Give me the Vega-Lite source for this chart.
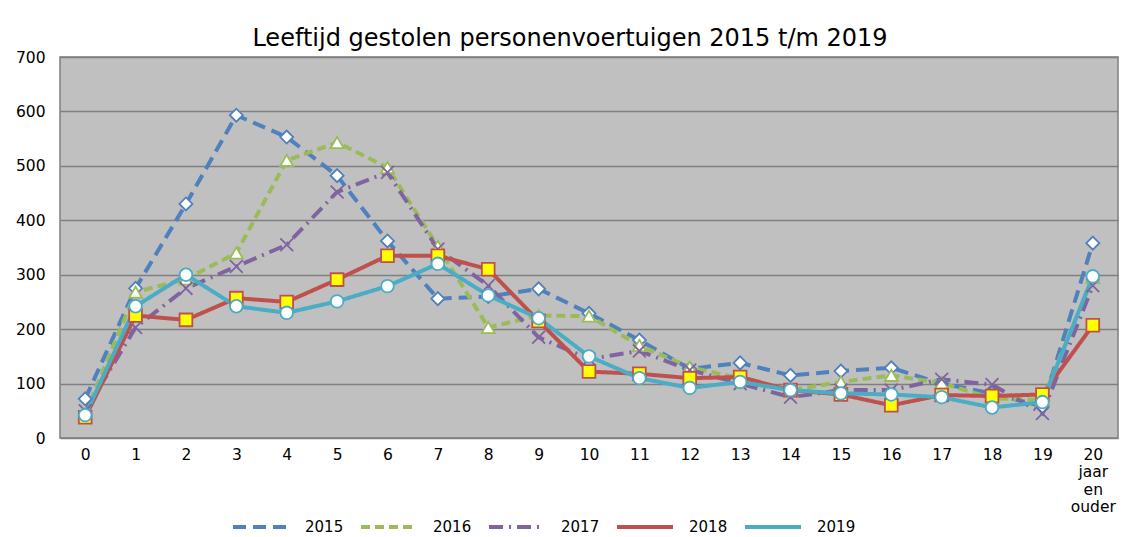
{
  "$schema": "https://vega.github.io/schema/vega-lite/v6.json",
  "autosize": "none",
  "width": 1058,
  "height": 381,
  "padding": {"left": 60, "top": 57, "right": 9, "bottom": 99},
  "background": "white",
  "title": {
    "text": "Leeftijd gestolen personenvoertuigen 2015 t/m 2019",
    "font": "DejaVu Sans",
    "fontSize": 24,
    "fontWeight": "normal",
    "color": "#000000",
    "anchor": "middle",
    "dx": -19,
    "offset": -1
  },
  "data": {
    "values": [
      {"age": "0", "year": "2015", "n": 72},
      {"age": "1", "year": "2015", "n": 275},
      {"age": "2", "year": "2015", "n": 430},
      {"age": "3", "year": "2015", "n": 593},
      {"age": "4", "year": "2015", "n": 553},
      {"age": "5", "year": "2015", "n": 482},
      {"age": "6", "year": "2015", "n": 362},
      {"age": "7", "year": "2015", "n": 256},
      {"age": "8", "year": "2015", "n": 260},
      {"age": "9", "year": "2015", "n": 274},
      {"age": "10", "year": "2015", "n": 229},
      {"age": "11", "year": "2015", "n": 180},
      {"age": "12", "year": "2015", "n": 127},
      {"age": "13", "year": "2015", "n": 138},
      {"age": "14", "year": "2015", "n": 115},
      {"age": "15", "year": "2015", "n": 123},
      {"age": "16", "year": "2015", "n": 129},
      {"age": "17", "year": "2015", "n": 100},
      {"age": "18", "year": "2015", "n": 82},
      {"age": "19", "year": "2015", "n": 58},
      {"age": "20 jaar en ouder", "year": "2015", "n": 358},
      {"age": "0", "year": "2016", "n": 45},
      {"age": "1", "year": "2016", "n": 268},
      {"age": "2", "year": "2016", "n": 292},
      {"age": "3", "year": "2016", "n": 340},
      {"age": "4", "year": "2016", "n": 510},
      {"age": "5", "year": "2016", "n": 543},
      {"age": "6", "year": "2016", "n": 497},
      {"age": "7", "year": "2016", "n": 352},
      {"age": "8", "year": "2016", "n": 203},
      {"age": "9", "year": "2016", "n": 225},
      {"age": "10", "year": "2016", "n": 224},
      {"age": "11", "year": "2016", "n": 170},
      {"age": "12", "year": "2016", "n": 130},
      {"age": "13", "year": "2016", "n": 110},
      {"age": "14", "year": "2016", "n": 88},
      {"age": "15", "year": "2016", "n": 103},
      {"age": "16", "year": "2016", "n": 115},
      {"age": "17", "year": "2016", "n": 101},
      {"age": "18", "year": "2016", "n": 73},
      {"age": "19", "year": "2016", "n": 70},
      {"age": "20 jaar en ouder", "year": "2016", "n": 295},
      {"age": "0", "year": "2017", "n": 50},
      {"age": "1", "year": "2017", "n": 203},
      {"age": "2", "year": "2017", "n": 275},
      {"age": "3", "year": "2017", "n": 315},
      {"age": "4", "year": "2017", "n": 355},
      {"age": "5", "year": "2017", "n": 452},
      {"age": "6", "year": "2017", "n": 488},
      {"age": "7", "year": "2017", "n": 347},
      {"age": "8", "year": "2017", "n": 280},
      {"age": "9", "year": "2017", "n": 185},
      {"age": "10", "year": "2017", "n": 145},
      {"age": "11", "year": "2017", "n": 160},
      {"age": "12", "year": "2017", "n": 125},
      {"age": "13", "year": "2017", "n": 100},
      {"age": "14", "year": "2017", "n": 75},
      {"age": "15", "year": "2017", "n": 88},
      {"age": "16", "year": "2017", "n": 88},
      {"age": "17", "year": "2017", "n": 108},
      {"age": "18", "year": "2017", "n": 98},
      {"age": "19", "year": "2017", "n": 45},
      {"age": "20 jaar en ouder", "year": "2017", "n": 280},
      {"age": "0", "year": "2018", "n": 38},
      {"age": "1", "year": "2018", "n": 225},
      {"age": "2", "year": "2018", "n": 217},
      {"age": "3", "year": "2018", "n": 257},
      {"age": "4", "year": "2018", "n": 250},
      {"age": "5", "year": "2018", "n": 291},
      {"age": "6", "year": "2018", "n": 335},
      {"age": "7", "year": "2018", "n": 335},
      {"age": "8", "year": "2018", "n": 310},
      {"age": "9", "year": "2018", "n": 215},
      {"age": "10", "year": "2018", "n": 122},
      {"age": "11", "year": "2018", "n": 118},
      {"age": "12", "year": "2018", "n": 110},
      {"age": "13", "year": "2018", "n": 112},
      {"age": "14", "year": "2018", "n": 88},
      {"age": "15", "year": "2018", "n": 80},
      {"age": "16", "year": "2018", "n": 60},
      {"age": "17", "year": "2018", "n": 79},
      {"age": "18", "year": "2018", "n": 77},
      {"age": "19", "year": "2018", "n": 80},
      {"age": "20 jaar en ouder", "year": "2018", "n": 207},
      {"age": "0", "year": "2019", "n": 42},
      {"age": "1", "year": "2019", "n": 242},
      {"age": "2", "year": "2019", "n": 300},
      {"age": "3", "year": "2019", "n": 242},
      {"age": "4", "year": "2019", "n": 230},
      {"age": "5", "year": "2019", "n": 251},
      {"age": "6", "year": "2019", "n": 279},
      {"age": "7", "year": "2019", "n": 320},
      {"age": "8", "year": "2019", "n": 262},
      {"age": "9", "year": "2019", "n": 220},
      {"age": "10", "year": "2019", "n": 150},
      {"age": "11", "year": "2019", "n": 110},
      {"age": "12", "year": "2019", "n": 92},
      {"age": "13", "year": "2019", "n": 103},
      {"age": "14", "year": "2019", "n": 88},
      {"age": "15", "year": "2019", "n": 82},
      {"age": "16", "year": "2019", "n": 80},
      {"age": "17", "year": "2019", "n": 75},
      {"age": "18", "year": "2019", "n": 56},
      {"age": "19", "year": "2019", "n": 66},
      {"age": "20 jaar en ouder", "year": "2019", "n": 297}
    ]
  },
  "encoding": {
    "x": {
      "field": "age",
      "type": "ordinal",
      "sort": null,
      "scale": {"type": "point", "padding": 0.5},
      "axis": {
        "title": null,
        "labelAngle": 0,
        "domain": false,
        "ticks": false,
        "labelPadding": 9,
        "labelFont": "DejaVu Sans",
        "labelFontSize": 15.5,
        "labelColor": "#000000",
        "labelOverlap": false,
        "labelLineHeight": 17.5,
        "labelExpr": "datum.value == '20 jaar en ouder' ? ['20', 'jaar', 'en', 'ouder'] : datum.label"
      }
    },
    "y": {
      "field": "n",
      "type": "quantitative",
      "scale": {"domain": [0, 700], "nice": false},
      "axis": {
        "title": null,
        "values": [0, 100, 200, 300, 400, 500, 600, 700],
        "domain": false,
        "ticks": false,
        "labelPadding": 15,
        "labelFont": "DejaVu Sans",
        "labelFontSize": 15.5,
        "labelColor": "#000000",
        "grid": true,
        "gridColor": "#7f7f7f",
        "gridWidth": 1.5
      }
    }
  },
  "resolve": {
    "scale": {"stroke": "independent", "shape": "independent", "fill": "independent", "size": "independent", "strokeDash": "independent"},
    "legend": {"stroke": "independent", "shape": "independent", "fill": "independent", "strokeDash": "independent"}
  },
  "layer": [
    {
      "mark": {"type": "line", "strokeWidth": 4},
      "encoding": {
        "stroke": {
          "field": "year",
          "type": "nominal",
          "scale": {
            "range": ["#4F81BD", "#9BBB59", "#8064A2", "#C0504D", "#4BACC6"]
          },
          "legend": {
            "title": null,
            "orient": "none",
            "direction": "horizontal",
            "legendX": 171,
            "legendY": 440,
            "symbolType": "stroke",
            "symbolSize": 3136,
            "symbolStrokeWidth": 4,
            "labelFont": "DejaVu Sans",
            "labelFontSize": 15,
            "labelColor": "#000000",
            "columnPadding": 9,
            "labelOffset": 14
          }
        },
        "strokeDash": {
          "field": "year",
          "type": "nominal",
          "scale": {
            "range": [[13, 7], [9, 5], [14, 6, 2, 6], [1, 0], [1, 0]]
          },
          "legend": {
            "title": null,
            "orient": "none",
            "direction": "horizontal",
            "legendX": 171,
            "legendY": 440,
            "symbolType": "stroke",
            "symbolSize": 3136,
            "symbolStrokeWidth": 4,
            "labelFont": "DejaVu Sans",
            "labelFontSize": 15,
            "labelColor": "#000000",
            "columnPadding": 9,
            "labelOffset": 14
          }
        }
      }
    },
    {
      "mark": {"type": "point", "filled": false, "strokeWidth": 1.8, "opacity": 1},
      "encoding": {
        "stroke": {
          "field": "year",
          "type": "nominal",
          "scale": {
            "range": ["#4F81BD", "#9BBB59", "#8064A2", "#C0504D", "#4BACC6"]
          },
          "legend": {
            "title": null,
            "orient": "none",
            "direction": "horizontal",
            "legendX": 193.3,
            "legendY": 461.5,
            "symbolSize": 130,
            "symbolStrokeWidth": 1.6,
            "labelFont": "DejaVu Sans",
            "labelFontSize": 15,
            "labelExpr": "''",
            "columnPadding": 106.6,
            "labelOffset": 2
          }
        },
        "shape": {
          "field": "year",
          "type": "nominal",
          "scale": {
            "range": ["diamond", "triangle-up", "M-1,-1L1,1M1,-1L-1,1", "square", "circle"]
          },
          "legend": {
            "title": null,
            "orient": "none",
            "direction": "horizontal",
            "legendX": 193.3,
            "legendY": 461.5,
            "symbolSize": 130,
            "symbolStrokeWidth": 1.6,
            "labelFont": "DejaVu Sans",
            "labelFontSize": 15,
            "labelExpr": "''",
            "columnPadding": 106.6,
            "labelOffset": 2
          }
        },
        "fill": {
          "field": "year",
          "type": "nominal",
          "scale": {
            "range": ["#FFFFFF", "#FFFFFF", "#FFFFFF", "#FFFF00", "#FFFFFF"]
          },
          "legend": {
            "title": null,
            "orient": "none",
            "direction": "horizontal",
            "legendX": 193.3,
            "legendY": 461.5,
            "symbolSize": 130,
            "symbolStrokeWidth": 1.6,
            "labelFont": "DejaVu Sans",
            "labelFontSize": 15,
            "labelExpr": "''",
            "columnPadding": 106.6,
            "labelOffset": 2
          }
        },
        "size": {
          "field": "year",
          "type": "nominal",
          "scale": {
            "range": [170, 160, 150, 250, 270]
          },
          "legend": null
        }
      }
    }
  ],
  "config": {
    "view": {"fill": "#C0C0C0", "stroke": "#7f7f7f", "strokeWidth": 1.5}
  }
}
